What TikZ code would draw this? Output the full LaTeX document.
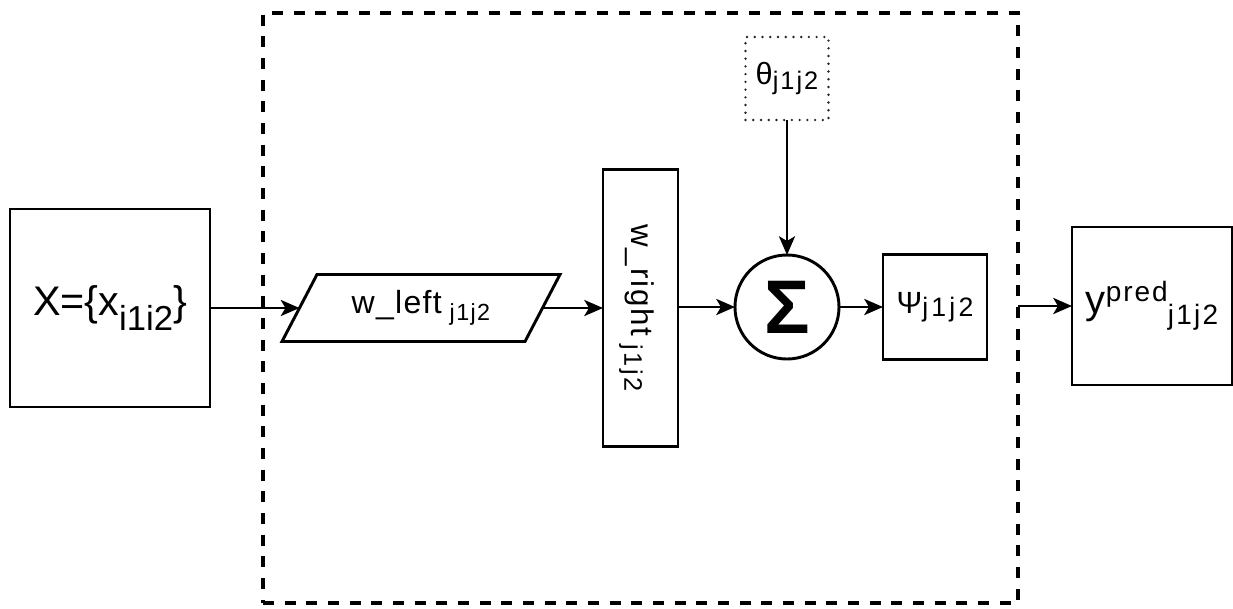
\documentclass[tikz,border=0pt]{standalone}
\usepackage{fontspec}
\setmainfont{Liberation Sans}
\usetikzlibrary{arrows.meta,calc}

% text of a given size and tracking; shifted (sub/superscript-like) text
\newcommand{\fs}[1]{\fontsize{#1}{#1}\selectfont}
\newcommand{\tx}[3][0]{{\fs{#2}\addfontfeature{LetterSpace=#1}#3}}
\newcommand{\shifted}[4][0]{\raisebox{#2}{\fs{#3}\addfontfeature{LetterSpace=#1}#4}}

\begin{document}
\begin{tikzpicture}[x=0.75pt,y=-0.75pt,
  every node/.style={inner sep=0pt, outer sep=0pt},
  blk/.style={draw, rectangle, line width=2.2pt},
  conn/.style={line width=2.2pt, -{Stealth[length=14pt,width=12pt,inset=3.5pt]}},
  groupbox/.style={draw, rectangle, line width=2.5pt, dash pattern=on 8.25pt off 8pt},
  dotbox/.style={draw=black!85, rectangle, line width=2pt, line cap=round, dash pattern=on 0pt off 5.8pt},
]
\useasboundingbox (0,0) rectangle (1233,608);

% dashed container
\node[groupbox, minimum width=566.25pt, minimum height=442.5pt] (grp) at (640.5,308) {};

% input block
\node[blk, minimum width=150pt, minimum height=148.5pt] (X) at (110,308)
  {\tx{31pt}{X=\{x}\shifted{-11pt}{26pt}{i1i2}\tx{31pt}{\}}};

% left weight (parallelogram outline drawn around a plain node)
\node[minimum width=182.25pt, minimum height=50.25pt] (wl) at (421,308)
  {\tx[4]{24pt}{w\_left}\hspace{6pt}\shifted[6]{-5pt}{17.5pt}{j1j2}};
\draw[line width=2.2pt, line join=miter]
  ($(wl.north west)+(17.5,0)$) -- ($(wl.north east)+(17.5,0)$)
  -- ($(wl.south east)+(-17.5,0)$) -- ($(wl.south west)+(-17.5,0)$) -- cycle;

% right weight (tall box with vertical label)
\node[blk, minimum width=56.25pt, minimum height=207.75pt] (wr) at (640.5,308) {};
\node[rotate=-90] (wrtext) at ($(wr.center)+(-4,0)$)
  {\tx[6]{23.5pt}{w\_right}\hspace{6pt}\shifted[10]{-5pt}{19pt}{j1j2}};

% summation
\node[draw, circle, line width=2.2pt, minimum size=78pt] (sum) at (787,307)
  {\fs{57pt}\bfseries Σ};

% bias
\node[dotbox, minimum width=62.25pt, minimum height=62.25pt] (th) at (787,78.5)
  {\tx{23pt}{θ}\shifted[8]{-4pt}{19pt}{j1j2}};

% activation
\node[blk, minimum width=78pt, minimum height=78.75pt] (psi) at (935,307)
  {\tx{23pt}{Ψ}\shifted[12]{-2pt}{20pt}{j1j2}};

% prediction
\node[blk, minimum width=120pt, minimum height=118.5pt] (yp) at (1152,306)
  {\tx{30pt}{y}\shifted[7]{9pt}{21pt}{pred}\shifted[8]{-8pt}{21pt}{j1j2}};

% connectors
\draw[conn] (X.east) -- (wl.west);
\draw[conn] (wl.east) -- (wr.west);
\draw[conn] (wr.east |- sum.west) -- (sum.west);
\draw[conn] (th.south) -- (sum.north);
\draw[conn] (sum.east) -- (psi.west);
\draw[conn] (grp.east |- yp.west) -- (yp.west);
\end{tikzpicture}
\end{document}
